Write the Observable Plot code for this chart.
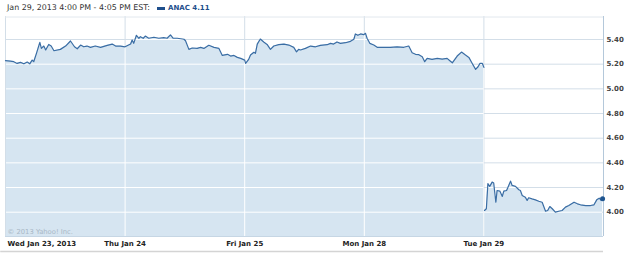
<!DOCTYPE html>
<html>
<head>
<meta charset="utf-8">
<script src="https://cdn.jsdelivr.net/npm/d3@7"></script>
<script src="https://cdn.jsdelivr.net/npm/@observablehq/plot@0.6"></script>
<style>
  html, body { margin: 0; padding: 0; background: #fff; }
  #wrap { width: 625px; height: 253px; position: relative; overflow: hidden; font-family: "DejaVu Sans", sans-serif; }
  #hdr { position: relative; height: 16px; }
  #hdr .t { position: absolute; left: 7px; top: 3px; font-size: 7.9px; color: #333; line-height: 10px; white-space: nowrap; }
  #hdr .sw { position: absolute; left: 157px; top: 7px; width: 8px; height: 3px; background: #1f4f8c; }
  #hdr .s { position: absolute; left: 168px; top: 3px; font-size: 7px; font-weight: bold; color: #1f4f8c; line-height: 10px; white-space: nowrap; }
  svg { display: block; }
</style>
</head>
<body>
<div id="wrap">
  <div id="hdr"></div>
  <div id="chart"></div>
</div>
<script>
const headerText = "Jan 29, 2013 4:00 PM - 4:05 PM EST:";
const seriesName = "ANAC";
const lastQuote = "4.11";
const dayLabels = ["Wed Jan 23, 2013", "Thu Jan 24", "Fri Jan 25", "Mon Jan 28", "Tue Jan 29"];
const yTicks = [4.00, 4.20, 4.40, 4.60, 4.80, 5.00, 5.20, 5.40];
const copyright = "© 2013 Yahoo! Inc.";
const sessionMinutes = 390;

// [minutes after 9:30 open, price]
const wed = [[0,5.228],[16,5.225],[27,5.22],[38,5.206],[49,5.215],[60,5.203],[71,5.217],[79,5.203],[87,5.233],[92,5.22],[101,5.288],[112,5.377],[117,5.328],[125,5.347],[131,5.315],[141,5.36],[149,5.347],[158,5.309],[179,5.32],[196,5.347],[212,5.388],[225,5.341],[234,5.325],[245,5.355],[255,5.341],[266,5.347],[277,5.336],[293,5.347],[310,5.336],[332,5.353],[348,5.363],[359,5.347],[375,5.347],[390,5.341]];
const thu = [[0,5.341],[18,5.363],[23,5.396],[28,5.369],[37,5.434],[45,5.41],[50,5.423],[59,5.41],[66,5.428],[77,5.41],[94,5.418],[110,5.41],[126,5.415],[137,5.41],[148,5.437],[157,5.41],[170,5.41],[192,5.402],[197,5.39],[208,5.32],[219,5.331],[235,5.328],[246,5.336],[257,5.328],[273,5.353],[290,5.336],[306,5.328],[317,5.271],[334,5.28],[344,5.266],[355,5.271],[366,5.255],[377,5.247],[390,5.233]];
const fri = [[3,5.206],[13,5.239],[19,5.274],[30,5.296],[35,5.288],[41,5.363],[51,5.404],[62,5.38],[73,5.36],[84,5.32],[95,5.347],[111,5.358],[128,5.363],[144,5.355],[160,5.336],[169,5.30],[176,5.32],[182,5.315],[198,5.328],[215,5.347],[231,5.341],[247,5.353],[269,5.358],[280,5.369],[290,5.363],[301,5.38],[312,5.369],[329,5.374],[345,5.385],[356,5.402],[361,5.445],[369,5.434],[378,5.445],[388,5.439]];
const mon = [[4,5.45],[9,5.41],[18,5.369],[31,5.355],[42,5.337],[64,5.337],[85,5.337],[107,5.341],[129,5.337],[145,5.347],[156,5.293],[167,5.28],[178,5.277],[189,5.26],[197,5.22],[205,5.247],[221,5.239],[238,5.247],[254,5.241],[270,5.247],[279,5.228],[287,5.211],[303,5.266],[317,5.298],[330,5.274],[341,5.255],[352,5.206],[363,5.158],[371,5.179],[377,5.206],[385,5.206],[390,5.174]];
const tue = [[2,4.014],[8,4.028],[13,4.231],[19,4.209],[27,4.244],[32,4.236],[39,4.081],[43,4.176],[52,4.171],[60,4.128],[65,4.171],[74,4.176],[81,4.217],[87,4.252],[92,4.217],[103,4.209],[114,4.182],[119,4.176],[125,4.136],[135,4.122],[141,4.095],[146,4.117],[157,4.108],[168,4.10],[179,4.089],[190,4.081],[201,4.008],[208,4.014],[215,4.046],[223,4.028],[233,4.00],[244,4.008],[255,4.014],[266,4.041],[277,4.054],[294,4.081],[305,4.068],[315,4.06],[332,4.054],[348,4.054],[359,4.06],[368,4.10],[376,4.114],[381,4.10],[387,4.11]];

const days = [wed, thu, fri, mon, tue];
const data = days.flatMap((arr, d) => arr.map(([m, p]) => ({t: d + m / sessionMinutes, p, seg: d < 4 ? 0 : 1})));
const last = data[data.length - 1];

// header
const hdr = document.getElementById("hdr");
hdr.innerHTML = `<span class="t"></span><span class="sw"></span><span class="s"></span>`;
hdr.querySelector(".t").textContent = headerText;
hdr.querySelector(".s").textContent = seriesName + " " + lastQuote;

const yMin = 3.803, yMax = 5.5865;
const gridColor = "#d3dee8";
const dayTicks = dayLabels.map((_, i) => i);

const svg = Plot.plot({
  width: 625,
  height: 237,
  marginTop: 0,
  marginBottom: 17,
  marginLeft: 5,
  marginRight: 22,
  x: {domain: [0, 5], axis: null},
  y: {domain: [yMin, yMax], axis: null},
  style: {fontFamily: "DejaVu Sans, sans-serif", background: "white", overflow: "visible"},
  marks: [
    Plot.ruleY(yTicks, {stroke: gridColor}),
    Plot.ruleX(dayTicks.slice(1), {stroke: gridColor}),
    Plot.areaY(data, {x: "t", y1: yMin, y2: "p", z: "seg", fill: "#d6e5f1"}),
    Plot.ruleY(yTicks, {stroke: "white"}),
    Plot.ruleX(dayTicks.slice(1), {stroke: "white"}),
    Plot.ruleX([0], {stroke: "#d3dee8"}),
    Plot.ruleX([5], {stroke: "#b4c8da"}),
    Plot.ruleY([yMin], {stroke: "#c6d6e4"}),
    Plot.ruleY([yMax], {stroke: "#e2e8ee", dy: 0.5}),
    Plot.ruleY([yMin], {stroke: "#d4d4d4", strokeWidth: 1.5, dy: 15, x1: -0.04, x2: 5}),
    Plot.line(data, {x: "t", y: "p", z: "seg", stroke: "#3a6da4", strokeWidth: 1.2}),
    Plot.dot([last], {x: "t", y: "p", r: 2.5, fill: "#1f5590"}),
    Plot.text(yTicks, {x: 5, y: d => d, text: d => d.toFixed(2), textAnchor: "start", dx: 3, fontWeight: "bold", fontSize: 7, fill: "#444"}),
    Plot.text([0], {x: d => d, text: d => dayLabels[d], frameAnchor: "bottom", dy: 7, lineAnchor: "middle", textAnchor: "start", dx: 2, fontWeight: "bold", fontSize: 7, fill: "#222"}),
    Plot.text(dayTicks.slice(1), {x: d => d, text: d => dayLabels[d], frameAnchor: "bottom", dy: 7, lineAnchor: "middle", fontWeight: "bold", fontSize: 7, fill: "#222"}),
    Plot.text([copyright], {frameAnchor: "bottom-left", dx: 2, dy: -5, lineAnchor: "middle", textAnchor: "start", fontSize: 6.8, fill: "#a9b8c6", text: d => d})
  ]
});

// clip white gridlines to the filled area
const ns = "http://www.w3.org/2000/svg";
const areaPaths = svg.querySelectorAll('g[aria-label="area"] path');
if (areaPaths.length) {
  const defs = document.createElementNS(ns, "defs");
  const cp = document.createElementNS(ns, "clipPath");
  cp.setAttribute("id", "fillclip");
  areaPaths.forEach(p => {
    const c = document.createElementNS(ns, "path");
    c.setAttribute("d", p.getAttribute("d"));
    const tr = p.getAttribute("transform") || p.parentNode.getAttribute("transform");
    if (tr) c.setAttribute("transform", tr);
    cp.appendChild(c);
  });
  defs.appendChild(cp);
  svg.insertBefore(defs, svg.firstChild);
  svg.querySelectorAll('g[aria-label="rule"][stroke="white"]').forEach(g => g.setAttribute("clip-path", "url(#fillclip)"));
}

document.getElementById("chart").appendChild(svg);
</script>
</body>
</html>
